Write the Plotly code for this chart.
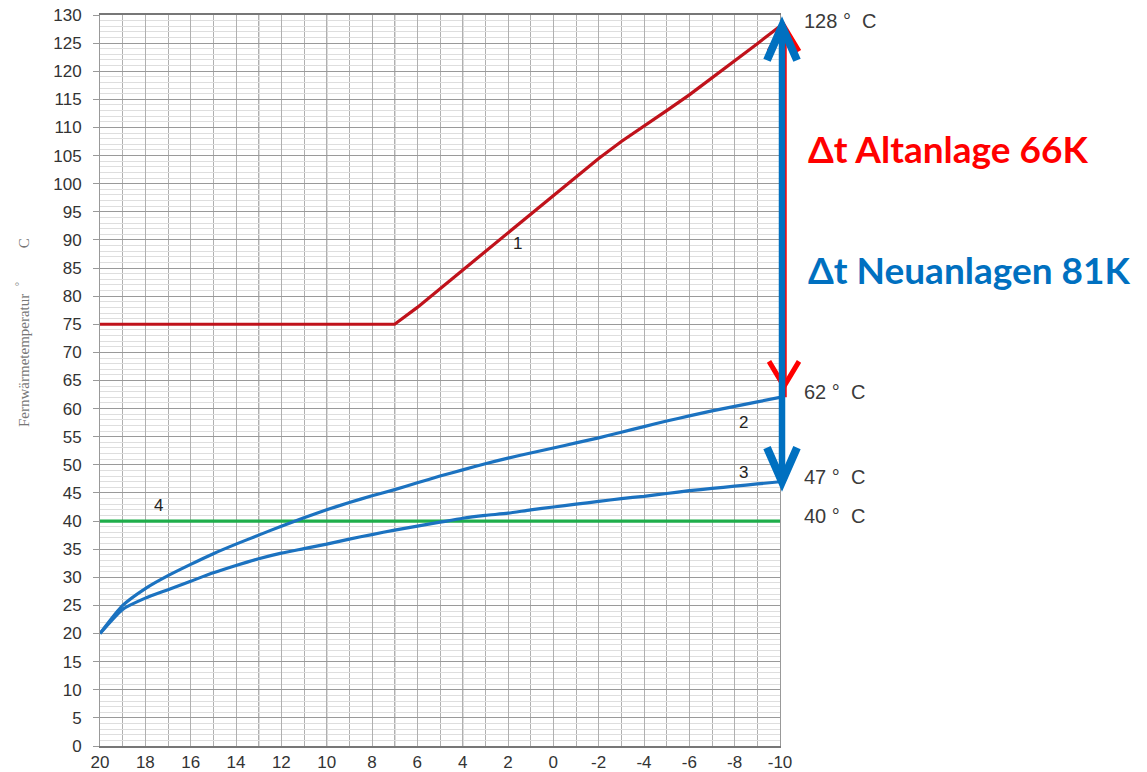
import plotly.graph_objects as go

# ---------------- data ----------------
OUTDOOR = [20, 19, 18, 17, 16, 15, 14, 13, 12, 11, 10, 9, 8, 7, 6, 5, 4, 3, 2, 1, 0,
           -1, -2, -3, -4, -5, -6, -7, -8, -9, -10]
CURVE1 = [75, 75, 75, 75, 75, 75, 75, 75, 75, 75, 75, 75, 75, 75, 78, 81.3, 84.6, 88, 91.3,
          94.6, 97.9, 101.2, 104.5, 107.5, 110.2, 113, 115.8, 118.8, 121.8, 124.9, 128]
CURVE2 = [20, 25, 28, 30.3, 32.3, 34.2, 35.9, 37.5, 39.1, 40.6, 42.0, 43.3, 44.5, 45.6, 46.8,
          48.0, 49.1, 50.2, 51.2, 52.1, 53.0, 53.9, 54.8, 55.8, 56.8, 57.8, 58.7, 59.6, 60.4,
          61.2, 62]
CURVE3 = [20, 24.3, 26.3, 27.8, 29.3, 30.8, 32.1, 33.3, 34.3, 35.1, 35.9, 36.8, 37.6, 38.4,
          39.1, 39.8, 40.5, 41.0, 41.4, 42.0, 42.5, 43.0, 43.5, 44.0, 44.4, 44.9, 45.4, 45.8,
          46.2, 46.6, 47]
CURVE4_LEVEL = 40
DARK_X = [13, 10, 7, 4]
VALUE_LABELS = [128, 62, 47, 40]
CURVE_NAMES = ["1", "2", "3", "4"]
X_TICKS = [20, 18, 16, 14, 12, 10, 8, 6, 4, 2, 0, -2, -4, -6, -8, -10]
Y_TICKS = list(range(0, 131, 5))
X_RANGE = [20, -10]
Y_RANGE = [0, 130]

RED = "#c0121b"
BLUE = "#1b72c0"
GREEN = "#1fae4b"
ARROW_BLUE = "#0070c0"
ARROW_RED = "#ff0000"


def xpaper(v):
    return (v - X_RANGE[0]) / (X_RANGE[1] - X_RANGE[0])


def ypaper(v):
    return (v - Y_RANGE[0]) / (Y_RANGE[1] - Y_RANGE[0])


fig = go.Figure()

fig.add_trace(go.Scatter(x=[OUTDOOR[0], OUTDOOR[-1]], y=[CURVE4_LEVEL, CURVE4_LEVEL],
                         mode="lines", line=dict(color=GREEN, width=3.2), hoverinfo="skip"))
fig.add_trace(go.Scatter(x=OUTDOOR, y=CURVE3, mode="lines",
                         line=dict(color=BLUE, width=3.2, shape="spline", smoothing=0.6)))
fig.add_trace(go.Scatter(x=OUTDOOR, y=CURVE2, mode="lines",
                         line=dict(color=BLUE, width=3.2, shape="spline", smoothing=0.6)))
fig.add_trace(go.Scatter(x=OUTDOOR, y=CURVE1, mode="lines",
                         line=dict(color=RED, width=3.2)))

shapes = []
for xv in DARK_X:
    shapes.append(dict(type="line", xref="x", yref="paper", x0=xv, x1=xv, y0=0, y1=1,
                       line=dict(color="#7a7a7a", width=1.2), layer="below"))


def arrow(x, y_top, y_bot, dx, hdx, color, width, head_w, head_h, head_width, bot_shift=0):
    xa = xpaper(x)
    yt = ypaper(y_top)
    yb = ypaper(y_bot)
    out = []
    out.append(dict(type="line", xref="paper", xsizemode="pixel", xanchor=xa, x0=dx, x1=dx,
                    yref="paper", y0=yb, y1=yt, line=dict(color=color, width=width)))
    out.append(dict(type="path", xref="paper", xsizemode="pixel", xanchor=xa,
                    yref="paper", ysizemode="pixel", yanchor=yt,
                    path=f"M {hdx - head_w},{-head_h} L {hdx},0 L {hdx + head_w},{-head_h}",
                    line=dict(color=color, width=head_width)))
    out.append(dict(type="path", xref="paper", xsizemode="pixel", xanchor=xa,
                    yref="paper", ysizemode="pixel", yanchor=yb,
                    path=f"M {hdx - head_w},{head_h + bot_shift} L {hdx},{bot_shift} "
                         f"L {hdx + head_w},{head_h + bot_shift}",
                    line=dict(color=color, width=head_width)))
    return out


xr = OUTDOOR[-1]
shapes += arrow(xr, CURVE1[-1], CURVE2[-1], 5.5, 4, ARROW_RED, 2.5, 15, 25, 5, bot_shift=11)
shapes += arrow(xr, CURVE1[-1], CURVE3[-1], 2, 2, ARROW_BLUE, 6.5, 15, 34, 8)

annotations = []
for v in VALUE_LABELS:
    annotations.append(dict(x=xr, y=v, xref="x", yref="y", xanchor="left", yanchor="middle",
                            xshift=22, yshift=5, showarrow=False,
                            text=f"{v}\u00a0°\u00a0\u00a0C",
                            font=dict(family="Liberation Sans, Arial", size=20, color="#3a3a3a")))

annotations.append(dict(x=xr, y=106.3, xref="x", yref="y", xanchor="left", yanchor="middle",
                        xshift=26, showarrow=False, text="<b>Δt Altanlage 66K</b>",
                        font=dict(family="Lato, Open Sans", size=37, color=ARROW_RED)))
annotations.append(dict(x=xr, y=84.8, xref="x", yref="y", xanchor="left", yanchor="middle",
                        xshift=26, showarrow=False, text="<b>Δt Neuanlagen 81K</b>",
                        font=dict(family="Lato, Open Sans", size=37, color=ARROW_BLUE)))

label_pos = [(1.6, 89.3), (-8.4, 57.6), (-8.4, 48.6), (17.4, 42.8)]
for name, (lx, ly) in zip(CURVE_NAMES, label_pos):
    annotations.append(dict(x=lx, y=ly, xref="x", yref="y", showarrow=False, text=name,
                            font=dict(family="Liberation Sans, Arial", size=17, color="#222")))

annotations.append(dict(x=0, y=0.565, xref="paper", yref="paper", xshift=-77,
                        xanchor="center", yanchor="middle", textangle=-90, showarrow=False,
                        text="Fernwärmetemperatur\u00a0\u00a0<sup>°</sup>"
                             "\u00a0\u00a0\u00a0\u00a0\u00a0\u00a0\u00a0\u00a0\u00a0C",
                        font=dict(family="Liberation Serif, DejaVu Serif", size=15, color="#777")))

fig.update_layout(
    width=1147, height=772,
    margin=dict(l=100, r=367, t=15, b=26, autoexpand=False),
    plot_bgcolor="white", paper_bgcolor="white",
    showlegend=False,
    shapes=shapes,
    annotations=annotations,
    xaxis=dict(range=X_RANGE, tickvals=X_TICKS,
               ticktext=[str(t) for t in X_TICKS], automargin=False,
               showgrid=True, gridcolor="#b0b0b0", gridwidth=1,
               minor=dict(dtick=1, tick0=0, showgrid=True, gridcolor="#b0b0b0", gridwidth=1),
               showline=True, linecolor="#777", linewidth=1.5, mirror=True,
               ticks="", zeroline=False, ticklabeloverflow="allow",
               tickfont=dict(family="Liberation Sans, Arial", size=17, color="#333")),
    yaxis=dict(range=Y_RANGE, tickvals=Y_TICKS, ticktext=[str(t) for t in Y_TICKS],
               automargin=False, ticklabeloverflow="allow", ticklabelstandoff=8,
               showgrid=True, gridcolor="#9a9a9a", gridwidth=1,
               minor=dict(dtick=1, tick0=0, showgrid=True, gridcolor="#dedede", gridwidth=1),
               showline=True, linecolor="#999", linewidth=1, mirror=True,
               ticks="outside", ticklen=6, tickcolor="#999", zeroline=False,
               tickfont=dict(family="Liberation Sans, Arial", size=17, color="#333")),
)

fig.write_html("out.html", config={"displayModeBar": False},
               post_script="document.body.style.margin='0px';"
                           "document.body.style.overflow='hidden';")
